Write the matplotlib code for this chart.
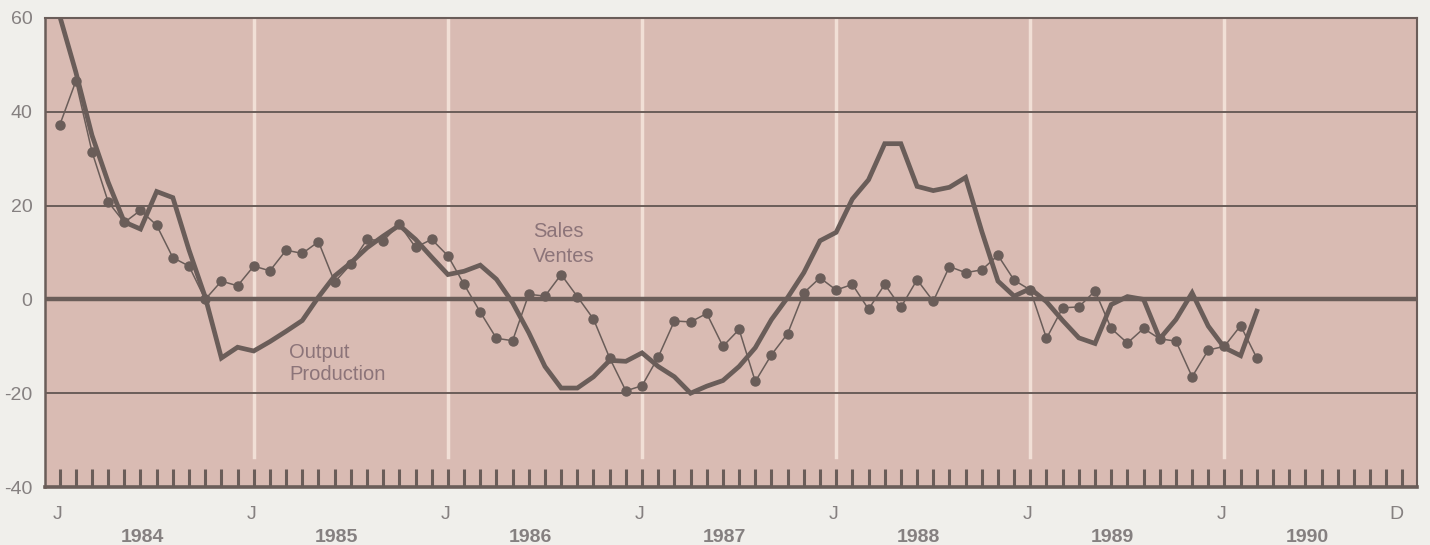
import matplotlib.pyplot as plt
import numpy as np

plt.rcParams['font.family'] = ['Liberation Sans', 'DejaVu Sans']

# Monthly data, January 1984 onwards (% change)
sales = [37.1, 46.5, 31.5, 20.8, 16.4, 19.0, 15.8, 8.9, 7.1, 0.0, 3.9, 2.9,
         7.1, 6.1, 10.5, 9.8, 12.3, 3.7, 7.5, 12.8, 12.5, 16.0, 11.1, 12.8,
         9.3, 3.2, -2.7, -8.3, -8.8, 1.1, 0.7, 5.3, 0.6, -4.2, -12.5, -19.5,
         -18.4, -12.3, -4.6, -4.8, -3.0, -10.0, -6.4, -17.5, -11.8, -7.3, 1.4, 4.6,
         2.0, 3.2, -2.1, 3.2, -1.7, 4.2, -0.4, 7.0, 5.7, 6.3, 9.4, 4.1,
         2.0, -8.3, -1.8, -1.6, 1.8, -6.2, -9.3, -6.2, -8.4, -8.9, -16.5, -10.8,
         -10.0, -5.6, -12.5]
output = [60.5, 48.5, 35.0, 25.0, 16.5, 15.0, 23.0, 21.7, 10.5, 0.5, -12.5, -10.2,
          -11.0, -9.0, -6.8, -4.5, 0.5, 5.0, 7.8, 11.0, 13.5, 15.8, 12.8, 9.0,
          5.3, 6.0, 7.3, 4.3, -0.7, -7.1, -14.3, -18.9, -18.9, -16.5, -13.0, -13.2,
          -11.4, -14.3, -16.5, -20.0, -18.5, -17.3, -14.3, -10.3, -4.3, 0.4, 5.7, 12.5,
          14.3, 21.4, 25.5, 33.2, 33.2, 24.1, 23.2, 23.9, 26.0, 14.5, 3.9, 0.7,
          2.3, -0.5, -4.5, -8.2, -9.4, -1.1, 0.6, 0.0, -8.4, -4.3, 1.4, -5.7,
          -10.3, -12.0, -2.5]
years = ['1984', '1985', '1986', '1987', '1988', '1989', '1990']
yticks = [60, 40, 20, 0, -20, -40]
n_months = 84

line_col = '#6a5d59'
text_col = '#858080'
label_col = '#8c7479'

fig = plt.figure(figsize=(14.3, 5.45), dpi=100, facecolor='#f0efeb')
ax = fig.add_axes([0.0315, 0.1064, 0.9594, 0.8606])
ax.set_facecolor('#d9bbb3')
ax.set_xlim(-0.9, 83.9)
ax.set_ylim(-40, 60)

# pale vertical lines at each January
for k in range(1, 7):
    ax.plot([12 * k, 12 * k], [-33.6, 60], color='#f1dfd6', lw=2.5, zorder=1)

# horizontal reference lines
for v in [40, 20, -20]:
    ax.axhline(v, color=line_col, lw=1.4, zorder=2)
ax.axhline(0, color=line_col, lw=3.2, zorder=2)

m = np.arange(len(sales))
ax.plot(m, sales, color=line_col, lw=1.1, marker='o', ms=6.5, zorder=4)
ax.plot(np.arange(len(output)), output, color=line_col, lw=3.4,
        solid_joinstyle='miter', zorder=3)

ax.text(29.25, 13.3, 'Sales', color=label_col, fontsize=14.5, va='baseline')
ax.text(29.25, 7.9, 'Ventes', color=label_col, fontsize=14.5, va='baseline')
ax.text(14.2, -12.4, 'Output', color=label_col, fontsize=14.5, va='baseline')
ax.text(14.2, -17.1, 'Production', color=label_col, fontsize=14.5, va='baseline')

# spines and month ticks
for s in ['top', 'right']:
    ax.spines[s].set_linewidth(1.5)
    ax.spines[s].set_color(line_col)
ax.spines['left'].set_linewidth(1.8)
ax.spines['left'].set_color(line_col)
ax.spines['bottom'].set_linewidth(2.6)
ax.spines['bottom'].set_color(line_col)
ax.set_xticks(range(n_months))
ax.tick_params(axis='x', direction='in', length=13, width=2.2, color=line_col,
               labelbottom=False)
ax.set_yticks(yticks)
ax.set_yticklabels([str(v) for v in yticks])
ax.tick_params(axis='y', length=0, pad=9, labelsize=14, labelcolor=text_col)

tr = ax.get_xaxis_transform()
for k in range(7):
    ax.text(12 * k - 0.15, -0.058, 'J', transform=tr, ha='center', va='center',
            color=text_col, fontsize=14)
    ax.text(12 * k + 5.1, -0.108, years[k], transform=tr, ha='center',
            va='center', color=text_col, fontsize=14, fontweight='bold')
ax.text(82.6, -0.058, 'D', transform=tr, ha='center', va='center',
        color=text_col, fontsize=14)

plt.savefig('out.png', dpi=100, facecolor=fig.get_facecolor())
